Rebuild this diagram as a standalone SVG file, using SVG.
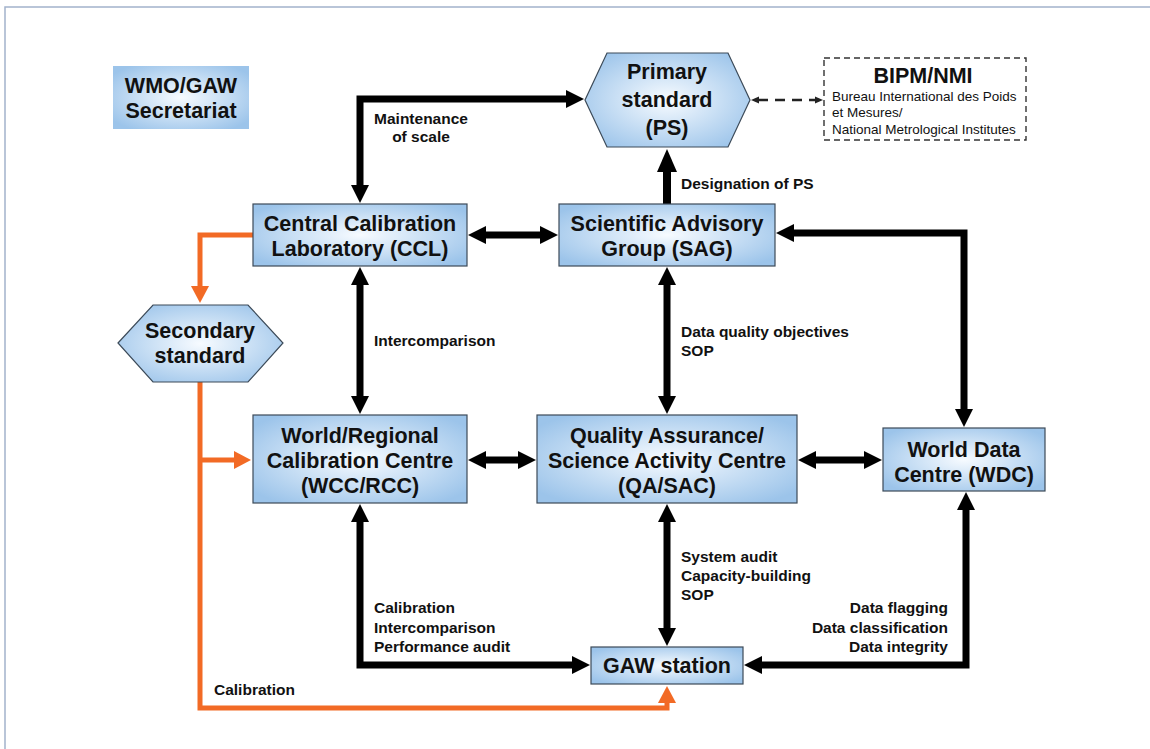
<svg xmlns="http://www.w3.org/2000/svg" width="1150" height="749" viewBox="0 0 1150 749">
<defs>
<radialGradient id="gfill" cx="50%" cy="50%" r="62%">
<stop offset="0%" stop-color="#f7fbff"/>
<stop offset="100%" stop-color="#9cc4ea"/>
</radialGradient>
<marker id="ah" markerUnits="userSpaceOnUse" markerWidth="20" markerHeight="20" refX="1" refY="9" orient="auto-start-reverse" overflow="visible">
<path d="M0,0 L18,9 L0,18 Z" fill="#000"/>
</marker>
<marker id="ahBig" markerUnits="userSpaceOnUse" markerWidth="24" markerHeight="22" refX="1" refY="10" orient="auto-start-reverse" overflow="visible">
<path d="M0,0 L23,10 L0,20 Z" fill="#000"/>
</marker>
<marker id="ahO" markerUnits="userSpaceOnUse" markerWidth="20" markerHeight="20" refX="1" refY="9" orient="auto-start-reverse" overflow="visible">
<path d="M0,0 L17,9 L0,18 Z" fill="#f26a25"/>
</marker>
<marker id="ahS" markerUnits="userSpaceOnUse" markerWidth="10" markerHeight="10" refX="1" refY="3.5" orient="auto-start-reverse" overflow="visible">
<path d="M0,0 L8,3.5 L0,7 Z" fill="#222"/>
</marker>
</defs>
<style>
.box{fill:url(#gfill);stroke:#3c4a58;stroke-width:1.2}
.nt{font-family:"Liberation Sans",Arial,sans-serif;font-weight:bold;font-size:21.5px;fill:#111;text-anchor:middle}
.lbl{font-family:"Liberation Sans",Arial,sans-serif;font-weight:bold;font-size:15.5px;fill:#111}
.sm{font-family:"Liberation Sans",Arial,sans-serif;font-size:13.5px;fill:#111}
.c{fill:none;stroke:#000;stroke-width:7;stroke-linejoin:miter}
.co{fill:none;stroke:#f26a25;stroke-width:5;stroke-linejoin:miter}
</style>
<rect x="5" y="7" width="1200" height="800" fill="#fff" stroke="#a3b3cc" stroke-width="1.5"/>

<g id="connectors">
<path class="c" d="M360,186 V99 H567" marker-start="url(#ah)" marker-end="url(#ah)"/>
<path class="c" d="M485,235 H541" marker-start="url(#ah)" marker-end="url(#ah)"/>
<path class="c" style="stroke-width:8" d="M667,205 V171" marker-end="url(#ahBig)"/>
<path fill="none" stroke="#222" stroke-width="2.5" stroke-dasharray="10,7" d="M758,100 H816" marker-start="url(#ahS)" marker-end="url(#ahS)"/>
<path class="c" d="M360,284 V397" marker-start="url(#ah)" marker-end="url(#ah)"/>
<path class="c" d="M667,284 V397" marker-start="url(#ah)" marker-end="url(#ah)"/>
<path class="c" d="M793,233 H964 V410" marker-start="url(#ah)" marker-end="url(#ah)"/>
<path class="c" d="M485,460 H519" marker-start="url(#ah)" marker-end="url(#ah)"/>
<path class="c" d="M815,460 H865" marker-start="url(#ah)" marker-end="url(#ah)"/>
<path class="c" d="M667,521 V629" marker-start="url(#ah)" marker-end="url(#ah)"/>
<path class="c" d="M360,521 V665 H573" marker-start="url(#ah)" marker-end="url(#ah)"/>
<path class="c" d="M966,509 V665 H761" marker-start="url(#ah)" marker-end="url(#ah)"/>
<path class="co" d="M253,235 H200 V287" marker-end="url(#ahO)"/>
<path class="co" d="M200,382 V708 H667 V702" marker-end="url(#ahO)"/>
<path class="co" d="M200,460 H235" marker-end="url(#ahO)"/>
<text class="lbl" x="421" y="124" text-anchor="middle">Maintenance</text>
<text class="lbl" x="421" y="142" text-anchor="middle">of scale</text>
<text class="lbl" x="681" y="189">Designation of PS</text>
<text class="lbl" x="374" y="346">Intercomparison</text>
<text class="lbl" x="681" y="337">Data quality objectives</text>
<text class="lbl" x="681" y="356">SOP</text>
<text class="lbl" x="681" y="562">System audit</text>
<text class="lbl" x="681" y="581">Capacity-building</text>
<text class="lbl" x="681" y="600">SOP</text>
<text class="lbl" x="374" y="613">Calibration</text>
<text class="lbl" x="374" y="633">Intercomparison</text>
<text class="lbl" x="374" y="652">Performance audit</text>
<text class="lbl" x="948" y="613" text-anchor="end">Data flagging</text>
<text class="lbl" x="948" y="633" text-anchor="end">Data classification</text>
<text class="lbl" x="948" y="652" text-anchor="end">Data integrity</text>
<text class="lbl" x="214" y="695">Calibration</text>
</g>

<g id="wmo">
<rect x="113" y="66" width="136" height="63" fill="url(#gfill)"/>
<text class="nt" x="181" y="93">WMO/GAW</text>
<text class="nt" x="181" y="118">Secretariat</text>
</g>
<g id="ps">
<polygon class="box" points="585,100 607,53 728,53 750,100 728,147 607,147"/>
<text class="nt" x="667" y="79">Primary</text>
<text class="nt" x="667" y="107">standard</text>
<text class="nt" x="667" y="135">(PS)</text>
</g>
<g id="bipm">
<rect x="824" y="58" width="202" height="82" fill="#fff" stroke="#333" stroke-width="1.4" stroke-dasharray="6,4"/>
<text class="nt" x="923" y="83">BIPM/NMI</text>
<text class="sm" x="832" y="101">Bureau International des Poids</text>
<text class="sm" x="832" y="117">et Mesures/</text>
<text class="sm" x="832" y="134">National Metrological Institutes</text>
</g>
<g id="ccl">
<rect class="box" x="253" y="204" width="214" height="62"/>
<text class="nt" x="360" y="231">Central Calibration</text>
<text class="nt" x="360" y="256">Laboratory (CCL)</text>
</g>
<g id="sag">
<rect class="box" x="559" y="204" width="216" height="62"/>
<text class="nt" x="667" y="231">Scientific Advisory</text>
<text class="nt" x="667" y="256">Group (SAG)</text>
</g>
<g id="secondary">
<polygon class="box" points="118,343 153,305 248,305 283,343 248,382 153,382"/>
<text class="nt" x="200" y="338">Secondary</text>
<text class="nt" x="200" y="363">standard</text>
</g>
<g id="wcc">
<rect class="box" x="253" y="415" width="214" height="88"/>
<text class="nt" x="360" y="443">World/Regional</text>
<text class="nt" x="360" y="468">Calibration Centre</text>
<text class="nt" x="360" y="493">(WCC/RCC)</text>
</g>
<g id="qasac">
<rect class="box" x="537" y="415" width="260" height="88"/>
<text class="nt" x="667" y="443">Quality Assurance/</text>
<text class="nt" x="667" y="468">Science Activity Centre</text>
<text class="nt" x="667" y="493">(QA/SAC)</text>
</g>
<g id="wdc">
<rect class="box" x="883" y="428" width="162" height="63"/>
<text class="nt" x="964" y="457">World Data</text>
<text class="nt" x="964" y="482">Centre (WDC)</text>
</g>
<g id="gaw">
<rect class="box" x="591" y="647" width="152" height="37"/>
<text class="nt" x="667" y="673">GAW station</text>
</g>
</svg>
